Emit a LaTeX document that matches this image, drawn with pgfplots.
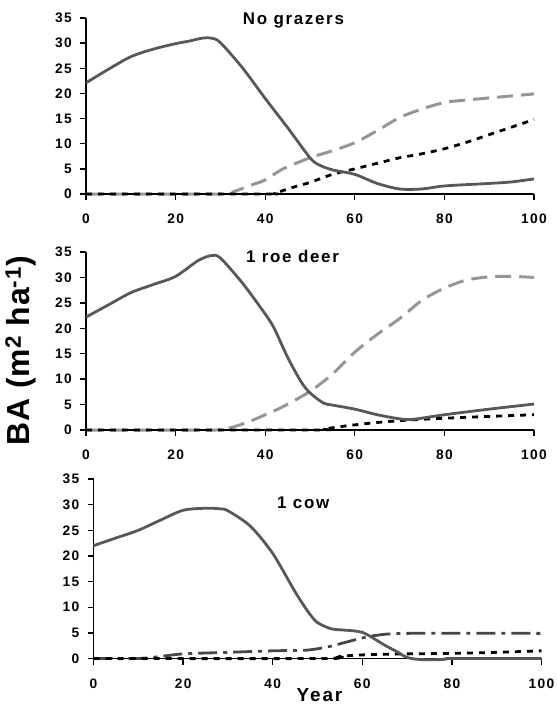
\documentclass[border=0pt]{standalone}
\usepackage{fontspec}
\usepackage{pgfplots}
\pgfplotsset{compat=1.18}
\newfontfamily\lsb[LetterSpace=10]{Liberation Sans}
\newfontfamily\lsy[LetterSpace=3]{Liberation Sans}
\definecolor{solidgray}{RGB}{88,88,88}
\definecolor{lightgray}{RGB}{150,150,150}
\definecolor{dashdotgray}{RGB}{70,70,70}
\pgfplotsset{
  panel/.style={
    scale only axis, width=448bp, anchor=south west,
    xmin=0, xmax=100, ymin=0, ymax=35,
    xtick={0,20,...,100}, ytick={0,5,...,35},
    axis lines=left, axis line style={-, line width=1.3bp, black},
    tick align=outside, major tick length=6bp,
    tick style={line width=1.3bp, black},
    /pgf/number format/assume math mode=true,
    tick label style={font=\lsb\bfseries\fontsize{13.8}{13.8}\selectfont},
    xticklabel style={inner sep=0pt, anchor=north, yshift=-14bp},
    yticklabel style={inner sep=0pt, anchor=east, xshift=-8bp},
    clip=false,
  },
  sl/.style={solidgray, line width=2.8bp, smooth, tension=0.5},
  gd/.style={lightgray, line width=3bp, dash pattern=on 16bp off 8bp, smooth, tension=0.5},
  bd/.style={black, line width=2.8bp, dash pattern=on 6bp off 6bp, smooth, tension=0.5},
  dd/.style={dashdotgray, line width=2.8bp, dash pattern=on 19bp off 6bp on 4bp off 6bp, smooth, tension=0.5},
}
\newcommand{\ttl}{\lsb\bfseries\fontsize{17}{17}\selectfont}
\begin{document}
\begin{tikzpicture}
\useasboundingbox (0bp,0bp) rectangle (557bp,704bp);
% Panel 1
\begin{axis}[panel, at={(86bp,510bp)}, height=176bp]
\addplot[gd] coordinates {(0,0) (30,0) (33,0.5) (37,1.8) (40,2.8) (44,5.0) (50,7.2) (55,8.6) (60,10.2) (65,12.6) (70,15.2) (75,16.9) (80,18.2) (85,18.7) (90,19.1) (95,19.5) (100,19.9)};
\addplot[bd] coordinates {(0,0) (40,0) (42,0.1) (45,1.0) (48,1.8) (50,2.3) (55,3.9) (60,5.0) (65,6.1) (70,7.2) (75,8.0) (80,9.0) (85,10.3) (90,11.8) (95,13.3) (100,14.8)};
\addplot[sl] coordinates {(0,22.1) (5,24.8) (10,27.3) (15,28.8) (20,29.9) (23,30.4) (26,31.0) (28,31.0) (30,30.1) (35,25.0) (40,19.0) (45,13.2) (50,7.2) (52,5.8) (55,4.8) (60,3.9) (65,2.1) (70,1.0) (75,1.0) (80,1.6) (90,2.1) (95,2.4) (100,3.0)};
\node[anchor=base, font=\ttl] at (axis cs:46.3,33.8) {No grazers};
\end{axis}
% Panel 2
\begin{axis}[panel, at={(86bp,274bp)}, height=178bp]
\addplot[gd] coordinates {(0,0) (29,0) (32,0.4) (36,1.5) (40,3.0) (44,4.6) (50,7.6) (55,11.0) (60,15.3) (65,18.8) (70,21.9) (75,25.5) (80,27.9) (85,29.5) (90,30.1) (95,30.2) (100,30.0)};
\addplot[bd] coordinates {(0,0) (50,0) (53,0.2) (58,0.8) (63,1.3) (68,1.7) (75,2.1) (85,2.5) (100,3.0)};
\addplot[sl] coordinates {(0,22.2) (5,24.6) (10,27.0) (15,28.6) (20,30.2) (25,33.3) (28,34.3) (30,33.8) (35,28.8) (40,22.8) (42,20.0) (45,14.3) (48,9.5) (50,7.3) (53,5.3) (55,4.9) (60,4.1) (65,3.0) (70,2.2) (73,2.1) (80,3.0) (90,4.1) (100,5.1)};
\node[anchor=base, font=\ttl] at (axis cs:46.1,33.0) {1 roe deer};
\end{axis}
% Panel 3
\begin{axis}[panel, at={(93.5bp,45.5bp)}, height=179.5bp]
\addplot[dd] coordinates {(0,0) (10,0) (15,0.4) (20,0.9) (30,1.2) (40,1.5) (47,1.6) (50,1.9) (53,2.4) (56,3.1) (60,4.0) (63,4.5) (70,4.9) (100,4.9)};
\addplot[bd] coordinates {(0,0) (52,0) (55,0.4) (60,0.7) (70,0.9) (80,1.0) (90,1.2) (100,1.5)};
\addplot[sl] coordinates {(0,22.0) (5,23.5) (10,25.0) (15,27) (20,28.9) (25,29.3) (28,29.2) (30,28.8) (35,25.8) (40,20.5) (45,13.0) (48,9.0) (50,7.0) (53,5.8) (55,5.6) (58,5.4) (60,5.1) (62,4.2) (65,2.6) (68,1.2) (70,0.2) (73,-0.2) (78,-0.2) (80,0) (100,0)};
\node[anchor=base, font=\ttl] at (axis cs:46.8,29.2) {1 cow};
\end{axis}
\node[rotate=90, anchor=center, font=\lsy\bfseries\fontsize{32}{32}\selectfont] at (21bp,353bp) {BA (m\textsuperscript{2} ha\textsuperscript{-1})};
\node[anchor=base, font=\lsb\bfseries\fontsize{19}{19}\selectfont] at (319.5bp,3bp) {Year};
\end{tikzpicture}
\end{document}
